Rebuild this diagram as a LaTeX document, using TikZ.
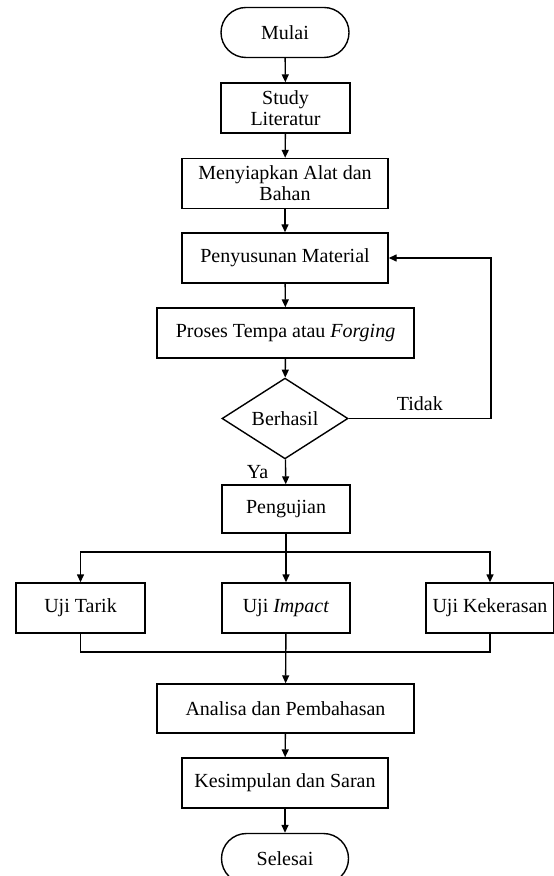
\documentclass[tikz,border=0pt]{standalone}
\usepackage{fontspec}
\setmainfont{Liberation Serif}
\usetikzlibrary{shapes.geometric,arrows.meta}
\begin{document}
\begin{tikzpicture}[x=0.5pt, y=-0.5pt,
    langkah/.style={rectangle, draw, line width=0.7pt, inner sep=2pt, align=center, minimum height=25pt, font=\fontsize{10}{10.5}\selectfont},
    terminal/.style={langkah, rounded corners=12.5pt, minimum width=64pt},
    keputusan/.style={diamond, draw, line width=0.7pt, inner sep=0pt, minimum width=63pt, minimum height=36.5pt, font=\fontsize{10}{10.5}\selectfont},
    label/.style={font=\fontsize{10}{10.5}\selectfont}]
    \useasboundingbox (0,0) rectangle (553,876);

    \begin{scope}
      \node [terminal] (mulai) at (285,32.5) {Mulai};
      \node [langkah, minimum width=64.5pt] (studi) at (285.5,108) {Study\\Literatur};
      \node [langkah, minimum width=103pt] (siap) at (285,183.5) {Menyiapkan Alat dan\\Bahan};
      \node [langkah, minimum width=103pt] (susun) at (285,258) {Penyusunan Material};
      \node [langkah, minimum width=128.5pt] (tempa) at (285.5,333) {Proses Tempa atau \textit{Forging}};
      \node [keputusan] (cek) at (285,418.5) {Berhasil};
      \node [langkah, minimum width=64pt, minimum height=24pt] (uji) at (286,509) {Pengujian};
    \end{scope}

    \begin{scope}
      \node [langkah, minimum width=64.5pt] (tarik) at (80.5,608) {Uji Tarik};
      \node [langkah, minimum width=64pt] (impact) at (286,608) {Uji \textit{Impact}};
      \node [langkah, minimum width=64pt] (keras) at (490,608) {Uji Kekerasan};
      \node [langkah, minimum width=128.5pt, minimum height=24.5pt] (analisa) at (285.5,708.5) {Analisa dan Pembahasan};
      \node [langkah, minimum width=103pt] (simpul) at (285,783) {Kesimpulan dan Saran};
      \node [terminal, minimum width=63.5pt] (selesai) at (285,858.5) {Selesai};
    \end{scope}

    \coordinate (balik) at (491,258);
    \coordinate (cabang) at (286,552);
    \coordinate (gabung) at (286,652);

    \begin{scope}[->, >={Triangle[length=4pt, width=3.5pt]}, line width=0.7pt]
      \draw (mulai) to (studi);
      \draw (studi) to (siap);
      \draw (siap) to (susun);
      \draw (susun) to (tempa);
      \draw (tempa) to (cek);
      \draw (cek) to node [label, left, xshift=-5pt] {Ya} (uji);
      \draw (cek) -- node [label, above] {Tidak} (cek -| balik) |- (susun);
      \draw (uji) to (impact);
      \draw (cabang) -| (tarik);
      \draw (cabang) -| (keras);
      \draw [-] (tarik) |- (gabung) -| (keras);
      \draw (impact) to (analisa);
      \draw (analisa) to (simpul);
      \draw (simpul) to (selesai);
    \end{scope}
\end{tikzpicture}
\end{document}
